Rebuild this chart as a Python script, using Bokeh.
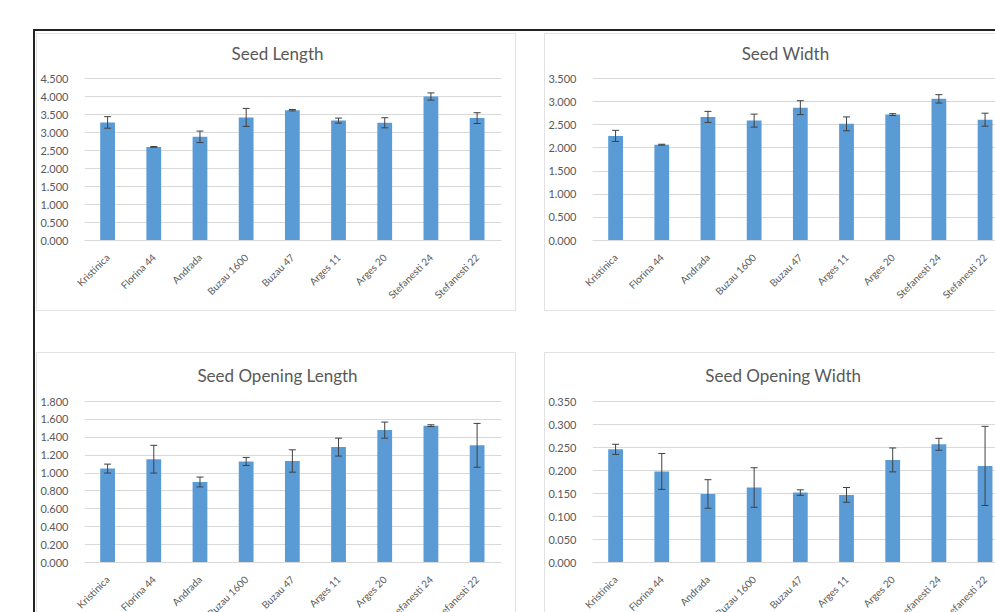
from bokeh.plotting import figure
from bokeh.models import (ColumnDataSource, Range1d, FixedTicker, PrintfTickFormatter,
                          Whisker, TeeHead, Label, Spacer)
from bokeh.layouts import column, row
from bokeh.embed import file_html
from bokeh.resources import INLINE
import math

# ---- data -------------------------------------------------------------
cultivars = ["Kristinica", "Florina 44", "Andrada", "Buzau 1600", "Buzau 47",
             "Arges 11", "Arges 20", "Stefanesti 24", "Stefanesti 22"]

seed_length = [3.28, 2.60, 2.88, 3.42, 3.62, 3.33, 3.27, 4.00, 3.40]
seed_length_err = [0.16, 0.01, 0.16, 0.25, 0.02, 0.07, 0.14, 0.10, 0.15]
seed_length_ticks = [0.0, 0.5, 1.0, 1.5, 2.0, 2.5, 3.0, 3.5, 4.0, 4.5]

seed_width = [2.26, 2.07, 2.67, 2.59, 2.87, 2.52, 2.72, 3.06, 2.61]
seed_width_err = [0.12, 0.01, 0.12, 0.14, 0.15, 0.15, 0.02, 0.09, 0.14]
seed_width_ticks = [0.0, 0.5, 1.0, 1.5, 2.0, 2.5, 3.0, 3.5]

opening_length = [1.05, 1.155, 0.90, 1.13, 1.135, 1.29, 1.48, 1.53, 1.31]
opening_length_err = [0.05, 0.155, 0.055, 0.045, 0.125, 0.10, 0.09, 0.01, 0.245]
opening_length_ticks = [0.0, 0.2, 0.4, 0.6, 0.8, 1.0, 1.2, 1.4, 1.6, 1.8]

opening_width = [0.246, 0.198, 0.149, 0.163, 0.152, 0.147, 0.223, 0.257, 0.210]
opening_width_err = [0.011, 0.039, 0.031, 0.043, 0.006, 0.016, 0.026, 0.013, 0.086]
opening_width_ticks = [0.0, 0.05, 0.10, 0.15, 0.20, 0.25, 0.30, 0.35]

# ---- style ------------------------------------------------------------
FONT = "Lato"
BAR = "#5B9BD5"
TEXT = "#595959"
GRID = "#D9D9D9"
ERR = "#404040"
PANEL_EDGE = "#E2E2E2"
FRAME_EDGE = "#222222"
PITCH = 46.3          # pixels per category
FRAME_LEFT = 46       # room for the value axis
BELOW = 70            # room for the slanted category names


def bar_panel(title, vals, errs, ticks, fig_w, grid_top, grid_zero,
              right_pad, title_cx, title_cy):
    ymax = ticks[-1]
    scale = (grid_zero - grid_top) / ymax
    y_end = ymax + grid_top / scale
    frame_w = fig_w - FRAME_LEFT - right_pad
    x_end = -0.5 + frame_w / PITCH

    p = figure(width=fig_w, height=grid_zero + BELOW,
               x_range=Range1d(-0.5, x_end), y_range=Range1d(0, y_end),
               output_backend="svg", toolbar_location=None,
               min_border_left=FRAME_LEFT, min_border_right=right_pad,
               min_border_top=0, min_border_bottom=BELOW)
    p.outline_line_color = None
    p.background_fill_color = "white"
    p.border_fill_color = "white"

    ay = p.yaxis[0]
    ay.ticker = FixedTicker(ticks=ticks)
    ay.formatter = PrintfTickFormatter(format="%.3f")
    ay.axis_line_color = None
    ay.major_tick_line_color = None
    ay.minor_tick_line_color = None
    ay.major_label_standoff = 10
    ay.major_label_text_font = FONT
    ay.major_label_text_font_size = "11px"
    ay.major_label_text_color = TEXT

    ax = p.xaxis[0]
    ax.ticker = FixedTicker(ticks=list(range(len(cultivars))))
    ax.major_label_overrides = {i: name for i, name in enumerate(cultivars)}
    ax.major_label_orientation = math.pi / 4
    ax.axis_line_color = GRID
    ax.axis_line_width = 1
    ax.major_tick_line_color = None
    ax.minor_tick_line_color = None
    ax.major_label_standoff = 9
    ax.major_label_text_font = FONT
    ax.major_label_text_font_size = "10px"
    ax.major_label_text_color = TEXT

    p.ygrid.ticker = FixedTicker(ticks=ticks)
    p.ygrid.grid_line_color = GRID
    p.ygrid.grid_line_width = 1
    p.xgrid.visible = False

    src = ColumnDataSource(dict(
        x=list(range(len(cultivars))),
        top=vals,
        upper=[v + e for v, e in zip(vals, errs)],
        lower=[v - e for v, e in zip(vals, errs)],
    ))

    p.vbar(x="x", top="top", bottom=0, width=0.32, source=src,
           fill_color=BAR, line_color=None)

    w = Whisker(source=src, base="x", upper="upper", lower="lower",
                line_color=ERR, line_width=1,
                upper_head=TeeHead(size=7, line_color=ERR, line_width=1),
                lower_head=TeeHead(size=7, line_color=ERR, line_width=1))
    w.level = "overlay"
    p.add_layout(w)

    p.add_layout(Label(x=title_cx - FRAME_LEFT, y=grid_zero - title_cy,
                       x_units="screen", y_units="screen", text=title,
                       text_align="center", text_baseline="middle",
                       text_font=FONT, text_font_size="17px", text_color=TEXT))
    return p


def edge(w, h, color):
    return Spacer(width=w, height=h, styles={"background-color": color})


# top row panels are 276 px tall inside their edge; the bottom row runs
# past the lower edge of the page and is cut there
p1 = bar_panel("Seed Length", seed_length, seed_length_err, seed_length_ticks,
               478, 44, 206, 14, 239, 19)
p2 = bar_panel("Seed Width", seed_width, seed_width_err, seed_width_ticks,
               450, 44, 206, 0, 239, 19)
p3 = bar_panel("Seed Opening Length", opening_length, opening_length_err,
               opening_length_ticks, 478, 48, 209, 14, 239, 22)
p4 = bar_panel("Seed Opening  Width", opening_width, opening_width_err,
               opening_width_ticks, 450, 48, 209, 0, 239, 22)

H3 = p3.height
box1 = column(edge(480, 1, PANEL_EDGE),
              row(edge(1, 276, PANEL_EDGE), p1, edge(1, 276, PANEL_EDGE)),
              edge(480, 1, PANEL_EDGE))
box2 = column(edge(451, 1, PANEL_EDGE),
              row(edge(1, 276, PANEL_EDGE), p2),
              edge(451, 1, PANEL_EDGE))
box3 = column(edge(480, 1, PANEL_EDGE),
              row(edge(1, H3, PANEL_EDGE), p3, edge(1, H3, PANEL_EDGE)))
box4 = column(edge(451, 1, PANEL_EDGE),
              row(edge(1, H3, PANEL_EDGE), p4))

inner = column(Spacer(width=959, height=2),
               row(box1, Spacer(width=28, height=278), box2),
               Spacer(width=959, height=41),
               row(box3, Spacer(width=28, height=H3 + 1), box4))

root = column(Spacer(width=995, height=29),
              row(Spacer(width=33, height=2), edge(962, 2, FRAME_EDGE)),
              row(Spacer(width=33, height=581), edge(2, 581, FRAME_EDGE),
                  Spacer(width=1, height=581), inner),
              width=995, height=612, styles={"overflow": "hidden"})

open("out.html", "w").write(file_html(root, INLINE))
